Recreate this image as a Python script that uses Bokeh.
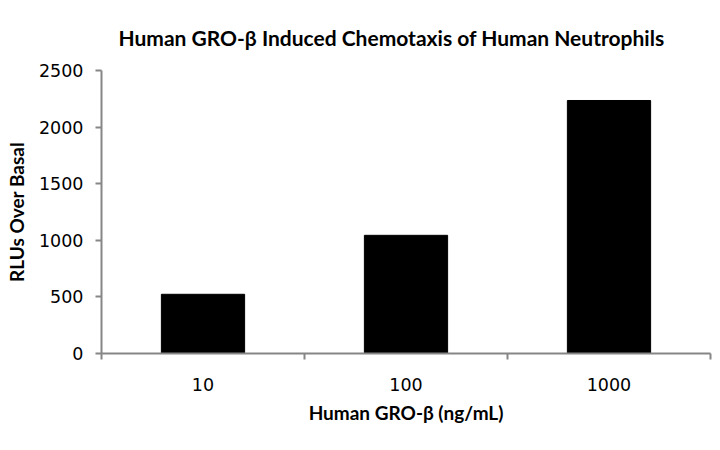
from bokeh.models import Range1d, FixedTicker, LinearAxis, ColumnDataSource
from bokeh.plotting import figure
from bokeh.embed import file_html
from bokeh.resources import INLINE

doses = ["10", "100", "1000"]
rlus = [523, 1044, 2235]
y_ticks = [0, 500, 1000, 1500, 2000, 2500]

AXIS_GREY = "#868686"

# bars sit at the middle of each category slot, slot borders carry the ticks
centers = [i + 0.5 for i in range(len(doses))]
borders = list(range(len(doses) + 1))
src = ColumnDataSource(data=dict(x=centers, top=rlus))

p = figure(width=712, height=434, output_backend="svg", toolbar_location=None,
           x_range=Range1d(0, len(doses)), y_range=Range1d(0, 2500),
           x_axis_type=None, min_border_left=101, min_border_right=2,
           min_border_top=70, min_border_bottom=81)

p.title.text = "Human GRO-\u03b2 Induced Chemotaxis of Human Neutrophils"
p.title.align = "left"
p.title.offset = 17
p.title.text_font = "Lato"
p.title.text_font_size = "21px"
p.title.text_font_style = "bold"
p.title.text_color = "black"
p.title.standoff = 41

p.vbar(x="x", top="top", width=0.41, source=src, color="black")

xaxis = LinearAxis(ticker=FixedTicker(ticks=centers, minor_ticks=borders))
xaxis.major_label_overrides = {c: d for c, d in zip(centers, doses)}
p.add_layout(xaxis, "below")

p.yaxis.ticker = FixedTicker(ticks=y_ticks)
p.yaxis.axis_label = "RLUs Over Basal"
p.xaxis.axis_label = "Human GRO-\u03b2 (ng/mL)"

for ax in p.axis:
    ax.axis_line_color = AXIS_GREY
    ax.axis_line_width = 2
    ax.major_tick_line_color = AXIS_GREY
    ax.major_tick_line_width = 2
    ax.major_tick_in = 0
    ax.major_tick_out = 6
    ax.minor_tick_line_color = None
    ax.major_label_text_font = "DejaVu Sans"
    ax.major_label_text_font_size = "17.5px"
    ax.major_label_text_color = "black"
    ax.axis_label_text_font = "Lato"
    ax.axis_label_text_font_size = "19px"
    ax.axis_label_text_font_style = "bold"
    ax.axis_label_text_color = "black"

xaxis.major_tick_line_color = None
xaxis.minor_tick_line_color = AXIS_GREY
xaxis.minor_tick_line_width = 2
xaxis.minor_tick_in = 0
xaxis.minor_tick_out = 6
xaxis.major_label_standoff = 18
xaxis.axis_label_standoff = 7
p.yaxis.major_label_standoff = 12
p.yaxis.axis_label_standoff = 8

p.xgrid.visible = False
p.ygrid.visible = False
p.outline_line_color = None

open("out.html", "w").write(file_html(p, INLINE))
